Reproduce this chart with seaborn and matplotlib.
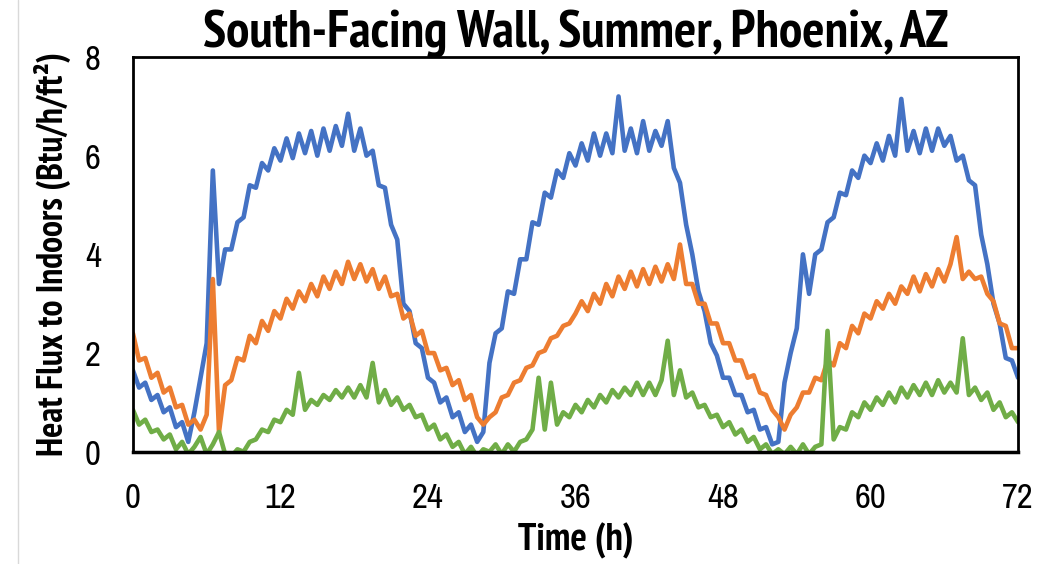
import numpy as np
import pandas as pd
import matplotlib
matplotlib.use("Agg")
import matplotlib.pyplot as plt
import seaborn as sns
from matplotlib import font_manager as fm
from matplotlib.lines import Line2D

# ---- data (0.5 h resolution) ----
time_h = np.arange(0, 72.5, 0.5)

blue = [
    1.65, 1.3, 1.4, 1.05, 1.15, 0.8, 0.9, 0.5, 0.6, 0.2, 0.8, 1.5,
    2.2, 5.7, 3.4, 4.1, 4.1, 4.65, 4.75, 5.4, 5.35, 5.85, 5.7, 6.15,
    5.9, 6.35, 5.95, 6.45, 6.05, 6.5, 6.0, 6.55, 6.1, 6.6, 6.2, 6.85,
    6.1, 6.55, 6.0, 6.1, 5.4, 5.35, 4.6, 4.3, 3.0, 2.85, 2.2, 2.1,
    1.5, 1.4, 1.0, 1.1, 0.7, 0.8, 0.4, 0.55, 0.2, 0.4, 1.8, 2.4,
    2.5, 3.25, 3.2, 3.9, 3.9, 4.65, 4.6, 5.25, 5.15, 5.7, 5.55, 6.05,
    5.8, 6.25, 5.9, 6.45, 6.0, 6.45, 6.05, 7.2, 6.1, 6.55, 6.05, 6.7,
    6.1, 6.5, 6.2, 6.7, 5.75, 5.45, 4.6, 4.0, 3.25, 2.85, 2.2, 1.95,
    1.5, 1.5, 1.15, 1.15, 0.8, 0.85, 0.45, 0.5, 0.15, 0.2, 1.4, 2.0,
    2.5, 4.0, 3.2, 4.0, 4.1, 4.65, 4.75, 5.25, 5.2, 5.7, 5.55, 6.0,
    5.85, 6.25, 5.9, 6.4, 6.0, 7.15, 6.1, 6.5, 6.05, 6.55, 6.1, 6.55,
    6.2, 6.4, 5.9, 6.0, 5.5, 5.4, 4.4, 3.8, 3.0, 2.6, 1.9, 1.85,
    1.5,
]

orange = [
    2.4, 1.85, 1.9, 1.5, 1.6, 1.2, 1.3, 0.9, 0.95, 0.55, 0.65, 0.45,
    0.75, 3.5, 0.4, 1.35, 1.45, 1.9, 1.85, 2.35, 2.2, 2.65, 2.45, 2.85,
    2.7, 3.1, 2.9, 3.25, 3.05, 3.4, 3.15, 3.55, 3.3, 3.65, 3.4, 3.85,
    3.5, 3.8, 3.45, 3.7, 3.3, 3.55, 3.15, 3.2, 2.7, 2.8, 2.35, 2.45,
    2.0, 2.0, 1.65, 1.7, 1.35, 1.45, 1.05, 1.15, 0.7, 0.55, 0.7, 0.8,
    1.1, 1.15, 1.4, 1.45, 1.7, 1.75, 2.0, 2.05, 2.3, 2.35, 2.55, 2.6,
    2.8, 3.05, 2.85, 3.2, 3.0, 3.4, 3.15, 3.55, 3.3, 3.65, 3.35, 3.7,
    3.4, 3.75, 3.45, 3.8, 3.5, 4.2, 3.4, 3.4, 3.0, 3.0, 2.6, 2.6,
    2.2, 2.2, 1.85, 1.85, 1.5, 1.55, 1.2, 1.15, 0.85, 0.7, 0.45, 0.75,
    0.9, 1.2, 1.2, 1.5, 1.45, 1.85, 1.75, 2.2, 2.1, 2.55, 2.4, 2.8,
    2.7, 3.05, 2.9, 3.2, 3.0, 3.35, 3.2, 3.55, 3.25, 3.6, 3.35, 3.7,
    3.45, 3.8, 4.35, 3.5, 3.65, 3.5, 3.55, 3.2, 3.05, 2.6, 2.55, 2.1,
    2.1,
]

green = [
    0.85, 0.55, 0.65, 0.4, 0.45, 0.25, 0.35, 0.05, 0.2, -0.05, 0.1, 0.3,
    -0.05, 0.15, 0.4, -0.05, -0.1, 0.05, 0.0, 0.2, 0.25, 0.45, 0.4, 0.65,
    0.6, 0.85, 0.75, 1.6, 0.85, 1.05, 0.95, 1.15, 1.05, 1.25, 1.1, 1.3,
    1.1, 1.35, 1.1, 1.8, 1.0, 1.25, 0.95, 1.1, 0.85, 0.95, 0.7, 0.75,
    0.45, 0.55, 0.25, 0.35, 0.1, 0.2, -0.05, 0.1, -0.1, 0.05, 0.0, 0.15,
    -0.05, 0.15, 0.0, 0.2, 0.25, 0.45, 1.5, 0.45, 1.4, 0.55, 0.8, 0.7,
    0.95, 0.8, 1.05, 0.9, 1.15, 1.0, 1.25, 1.1, 1.3, 1.15, 1.4, 1.15,
    1.4, 1.15, 1.45, 2.25, 1.15, 1.65, 1.1, 1.2, 0.9, 0.95, 0.7, 0.75,
    0.5, 0.6, 0.35, 0.45, 0.2, 0.3, 0.05, 0.15, -0.05, 0.05, -0.05, 0.1,
    -0.05, 0.15, -0.05, 0.1, 0.15, 2.45, 0.25, 0.5, 0.45, 0.8, 0.7, 1.0,
    0.85, 1.1, 0.95, 1.2, 1.0, 1.3, 1.1, 1.35, 1.15, 1.4, 1.15, 1.45,
    1.2, 1.4, 1.2, 2.3, 1.15, 1.3, 1.05, 1.2, 0.85, 1.0, 0.7, 0.8,
    0.6,
]

series_names = ["Series A", "Series B", "Series C"]
colors = ["#4472C4", "#ED7D31", "#70AD47"]
x_ticks = [0, 12, 24, 36, 48, 60, 72]
y_ticks = [0, 2, 4, 6, 8]
title_text = "South-Facing Wall, Summer, Phoenix, AZ"
xlabel_text = "Time (h)"
ylabel_text = "Heat Flux to Indoors (Btu/h/ft²)"

df = pd.concat([
    pd.DataFrame({"Time": time_h, "Flux": vals, "Series": name})
    for name, vals in zip(series_names, [blue, orange, green])
], ignore_index=True)

# ---- pick a narrow sans font (with a bold face) if one is installed ----
def _w(f):
    w = f.weight
    if isinstance(w, str):
        w = fm.weight_dict.get(w, 400)
    return int(w)

faces = {}
for f in fm.fontManager.ttflist:
    faces.setdefault(f.name, set()).add(_w(f))

candidates = ["Liberation Sans Narrow", "Arial Narrow", "Archivo Narrow",
              "PT Sans Narrow", "Roboto Condensed", "Sofia Sans Condensed",
              "Fira Sans Condensed", "IBM Plex Sans Condensed",
              "Encode Sans Condensed", "Barlow Semi Condensed",
              "Open Sans Condensed", "Asap Condensed", "Roboto",
              "Liberation Sans"]
bold_font = next((c for c in candidates
                  if c in faces and max(faces[c]) >= 600), "DejaVu Sans")
reg_font = next((c for c in candidates if c in faces), "DejaVu Sans")

sns.set_theme(style="white")
plt.rcParams["font.family"] = [reg_font, "DejaVu Sans"]

fig = plt.figure(figsize=(10.55, 5.64), dpi=100)
ax = fig.add_axes([0.126, 0.199, 0.839, 0.700])

sns.lineplot(data=df, x="Time", y="Flux", hue="Series", palette=colors,
             estimator=None, sort=False, linewidth=3.3, legend=False, ax=ax)

ax.set_xlim(0, 72)
ax.set_ylim(0, 8)
ax.set_xticks(x_ticks)
ax.set_yticks(y_ticks)
ax.tick_params(axis="both", direction="out", length=9, width=1.8,
               labelsize=25, colors="black")
ax.tick_params(axis="x", pad=13)
ax.tick_params(axis="y", pad=14)
for s in ax.spines.values():
    s.set_visible(True)
    s.set_color("black")
    s.set_linewidth(2.0)
ax.spines["bottom"].set_linewidth(2.5)

bold_fam = [bold_font, "DejaVu Sans"]
xl = ax.set_xlabel(xlabel_text, fontsize=25, fontweight="bold", labelpad=6,
                   color="black", family=bold_fam)
yl = ax.set_ylabel(ylabel_text, fontsize=24, fontweight="bold", labelpad=10,
                   color="black", family=bold_fam)
tt = ax.set_title(title_text, fontsize=30, fontweight="bold", pad=7,
                  color="black", family=bold_fam)

# fit text sizes to the reference's measured extents (pixels)
fig.canvas.draw()
r = fig.canvas.get_renderer()
for txt, target, horiz in [(tt, 745, True), (xl, 116, True), (yl, 405, False)]:
    bb = txt.get_window_extent(renderer=r)
    cur = bb.width if horiz else bb.height
    txt.set_fontsize(txt.get_fontsize() * target / cur)

fig.add_artist(Line2D([0.017, 0.017], [0.0, 1.0], color="#d9d9d9",
                      linewidth=1.0, transform=fig.transFigure))

fig.savefig("out.png", dpi=100)
